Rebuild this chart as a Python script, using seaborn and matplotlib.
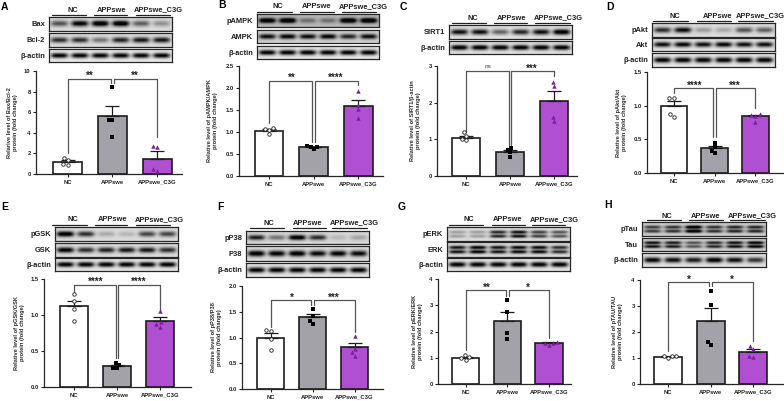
import matplotlib
matplotlib.use("Agg")
import matplotlib.pyplot as plt
import numpy as np
import pandas as pd
import seaborn as sns

FIG_W, FIG_H = 784, 401
groups = ["NC", "APPswe", "APPswe_C3G"]
palette = ["#ffffff", "#a2a2a8", "#b04fd2"]

a_nc, a_app, a_c3g = [0.9, 1.0, 1.4, 1.6], [3.6, 5.2, 5.2, 8.4], [0.3, 0.5, 2.6, 2.7]
a_mean, a_sem = [1.2, 5.6, 1.5], [0.2, 1.0, 0.7]
b_nc, b_app, b_c3g = [0.95, 1.05, 1.07, 1.08], [0.62, 0.66, 0.66, 0.69], [1.32, 1.52, 1.62, 1.93]
b_mean, b_sem = [1.03, 0.65, 1.6], [0.03, 0.01, 0.13]
c_nc, c_app, c_c3g = [0.98, 1.0, 1.1, 1.2], [0.53, 0.65, 0.72, 0.77], [1.5, 1.62, 2.45, 2.57]
c_mean, c_sem = [1.05, 0.66, 2.04], [0.05, 0.06, 0.29]
d_nc, d_app, d_c3g = [0.83, 0.87, 1.12, 1.12], [0.30, 0.33, 0.38, 0.45], [0.76, 0.85, 0.86, 0.88]
d_mean, d_sem = [1.0, 0.37, 0.84], [0.07, 0.03, 0.02]
e_nc, e_app, e_c3g = [0.92, 1.09, 1.2, 1.29], [0.26, 0.27, 0.30, 0.33], [0.84, 0.88, 0.90, 1.05]
e_mean, e_sem = [1.12, 0.29, 0.92], [0.08, 0.02, 0.05]
f_nc, f_app, f_c3g = [0.76, 0.98, 1.13, 1.14], [1.27, 1.32, 1.42, 1.55], [0.65, 0.72, 0.78, 1.03]
f_mean, f_sem = [1.0, 1.39, 0.81], [0.09, 0.06, 0.09]
g_nc, g_app, g_c3g = [0.93, 1.0, 1.03, 1.1], [1.73, 1.95, 2.73, 3.2], [1.48, 1.55, 1.58, 1.6]
g_mean, g_sem = [1.0, 2.4, 1.56], [0.04, 0.36, 0.03]
h_nc, h_app, h_c3g = [1.0, 1.07, 1.08, 1.09], [1.5, 1.6, 3.03, 3.57], [1.05, 1.08, 1.35, 1.47]
h_mean, h_sem = [1.05, 2.42, 1.25], [0.02, 0.52, 0.1]

# band strength per lane
bax = [.55, .9, 1, 1, .5, .3]
bcl2 = [.7, .7, .4, .75, .8, .8]
pampk = [.9, .95, .3, .3, .95, .95]
ampk = [.8, .85, .8, .85, .7, .8]
sirt1 = [.85, .85, .5, .75, .85, 1]
pakt = [.7, .85, .25, .2, .55, .5]
akt = [.85, .9, .85, .9, .85, .85]
pgsk = [1, .7, .2, .15, .6, .6]
gsk = [.9, .7, .75, .8, .8, .7]
pp38 = [.75, .4, .95, .7, .12, .2]
p38 = [.95, .9, .95, .85, .9, .85]
perk = [.25, .25, .75, .85, .65, .55]
erk = [.8, .9, .8, .85, .85, .7]
ptau = [.6, .65, 1, .65, .7, .7]
tau = [.8, .75, .5, .7, .8, .9]
actin = [.95, .95, .95, .95, .95, .95]
actin_h = [.9, .85, .8, .95, .85, .7]

# px layout: axis left/right/top/bottom, first bar centre, bar spacing, bar width
panels = [
    dict(letter="A", letter_xy=(1, 6), ax_px=(36, 182, 71, 174), bar0=67.5, step=44.9, bar_w=29.5,
         vals=(a_nc, a_app, a_c3g), mean=a_mean, sem=a_sem, ymax=10, ticks=[0, 2, 4, 6, 8, 10], fmt="{:.0f}",
         ylabel="Relarive level of Bax/Bcl-2\nprotein (fold change)", ylab_x=18,
         bracket=(9.25, 2.0, 8.8, 3.6), stars=("**", "**"),
         blot_x=(49, 172), rows=[("Bax", 17, 31, bax, 1, .86), ("Bcl-2", 33, 47, bcl2, 1, .86), ("β-actin", 49, 62, actin, 1, .92)],
         head_y=9, line_y=15, lines=[(52, 86), (94, 127), (136, 170)], head_x=(73, 112, 158)),
    dict(letter="B", letter_xy=(218, 5), ax_px=(239, 383, 66, 176), bar0=269, step=44.7, bar_w=28.5,
         vals=(b_nc, b_app, b_c3g), mean=b_mean, sem=b_sem, ymax=2.5, ticks=[0, .5, 1, 1.5, 2, 2.5], fmt="{:.1f}",
         ylabel="Relative level of pAMPK/AMPK\nprotein (fold change)", ylab_x=218,
         bracket=(2.17, 1.2, 0.78, 2.07), stars=("**", "****"),
         blot_x=(257, 379), rows=[("pAMPK", 14, 27, pampk, 1, .72), ("AMPK", 30, 43, ampk, 1, .82), ("β-actin", 46, 59, actin, 1, .9)],
         head_y=6, line_y=12, lines=[(257, 292), (300, 334), (342, 376)], head_x=(278, 317, 363)),
    dict(letter="C", letter_xy=(400, 6), ax_px=(437, 577, 66, 176), bar0=466, step=44, bar_w=28.5,
         vals=(c_nc, c_app, c_c3g), mean=c_mean, sem=c_sem, ymax=3, ticks=[0, 1, 2, 3], fmt="{:.0f}",
         ylabel="Relative level of SIRT1/β-actin\nprotein (fold change)", ylab_x=421,
         bracket=(2.86, 1.2, 0.85, 2.73), stars=("ns", "***"),
         blot_x=(449, 572), rows=[("SIRT1", 25, 39, sirt1, 1, .88), ("β-actin", 41, 54, actin, 1, .88)],
         head_y=17, line_y=23, lines=[(452, 486), (494, 527), (535, 570)], head_x=(473, 512, 558)),
    dict(letter="D", letter_xy=(606, 6), ax_px=(647, 783, 72, 173), bar0=674, step=40.7, bar_w=26.7,
         vals=(d_nc, d_app, d_c3g), mean=d_mean, sem=d_sem, ymax=1.5, ticks=[0, .5, 1, 1.5], fmt="{:.1f}",
         ylabel="Relative level of pAkt/Akt\nprotein (fold change)", ylab_x=627,
         bracket=(1.26, 1.19, 0.54, 0.96), stars=("****", "***"),
         blot_x=(652, 775), rows=[("pAkt", 23, 37, pakt, 1, .86), ("Akt", 38, 51, akt, 1, .88), ("β-actin", 53, 67, actin, 1, .9)],
         head_y=15, line_y=21, lines=[(653, 688), (697, 731), (738, 773)], head_x=(675, 718, 760)),
    dict(letter="E", letter_xy=(1, 207), ax_px=(44, 191, 279, 387), bar0=74, step=43, bar_w=27.8,
         vals=(e_nc, e_app, e_c3g), mean=e_mean, sem=e_sem, ymax=1.5, ticks=[0, .5, 1, 1.5], fmt="{:.1f}",
         ylabel="Relative level of pGSK/GSK\nprotein (fold change)", ylab_x=25,
         bracket=(1.42, 1.32, 0.4, 1.07), stars=("****", "****"),
         blot_x=(55, 178), rows=[("pGSK", 227, 241, pgsk, 1, .86), ("GSK", 243, 257, gsk, 1, .86), ("β-actin", 258, 271, actin, 1, .9)],
         head_y=219, line_y=225, lines=[(52, 87), (95, 127), (136, 170)], head_x=(73, 113, 159)),
    dict(letter="F", letter_xy=(217, 207), ax_px=(242, 383, 286, 389), bar0=270.5, step=42, bar_w=27.3,
         vals=(f_nc, f_app, f_c3g), mean=f_mean, sem=f_sem, ymax=2, ticks=[0, .5, 1, 1.5, 2], fmt="{:.1f}",
         ylabel="Relative level of pP38/P38\nprotein (fold change)", ylab_x=222,
         bracket=(1.73, 1.21, 1.63, 1.11), stars=("*", "***"),
         blot_x=(246, 369), rows=[("pP38", 231, 244, pp38, 1, .84), ("P38", 246, 261, p38, 1, .86), ("β-actin", 263, 277, actin, 1, .9)],
         head_y=222, line_y=228, lines=[(250, 284), (293, 326), (332, 367)], head_x=(269, 308, 354)),
    dict(letter="G", letter_xy=(398, 207), ax_px=(438, 571, 279, 384), bar0=465.5, step=41.8, bar_w=27.5,
         vals=(g_nc, g_app, g_c3g), mean=g_mean, sem=g_sem, ymax=4, ticks=[0, 1, 2, 3, 4], fmt="{:.0f}",
         ylabel="Relative level of pERK/ERK\nprotein (fold change)", ylab_x=423,
         bracket=(3.57, 1.3, 3.37, 1.75), stars=("**", "*"),
         blot_x=(447, 570), rows=[("pERK", 227, 241, perk, 2, .86), ("ERK", 242, 257, erk, 2, .84), ("β-actin", 258, 271, actin, 1, .9)],
         head_y=219, line_y=225, lines=[(449, 483), (492, 525), (532, 565)], head_x=(469, 508, 554)),
    dict(letter="H", letter_xy=(604, 205), ax_px=(640, 784, 280, 384), bar0=668, step=42.7, bar_w=28,
         vals=(h_nc, h_app, h_c3g), mean=h_mean, sem=h_sem, ymax=4, ticks=[0, 1, 2, 3, 4], fmt="{:.0f}",
         ylabel="Relative level of pTAU/TAU\nprotein (fold change)", ylab_x=623,
         bracket=(3.91, 1.26, 3.76, 1.64), stars=("*", "*"),
         blot_x=(642, 766), rows=[("pTau", 222, 236, ptau, 2, .8), ("Tau", 238, 251, tau, 2, .8), ("β-actin", 253, 267, actin_h, 1, .88)],
         head_y=215, line_y=220, lines=[(647, 681), (689, 723), (730, 765)], head_x=(667, 706, 752)),
]


def px_axes(fig, x0, x1, y0, y1):
    # pixel box (y from the top) to figure fractions
    return fig.add_axes([x0 / FIG_W, 1 - y1 / FIG_H, (x1 - x0) / FIG_W, (y1 - y0) / FIG_H])


def blot_image(levels, n_bands, background):
    # soft dark bands on a pale membrane, one column per lane
    h, w = 40, 240
    yy, xx = np.mgrid[0:1:h * 1j, 0:1:w * 1j]
    dark = np.zeros((h, w))
    centres = [0.5] if n_bands == 1 else [0.36, 0.66]
    for i, level in enumerate(levels):
        cx = (i + 0.5) / len(levels)
        across = np.exp(-((xx - cx) / 0.07) ** 4)
        for cy in centres:
            dark += level * across * np.exp(-((yy - cy) / (0.2 if n_bands == 1 else 0.12)) ** 2)
    return np.clip(background - dark, 0.02, 1)


def draw_bars(fig, p):
    left, right, top, bottom = p["ax_px"]
    ax = px_axes(fig, left, right, top, bottom)
    sns.barplot(x=groups, y=p["mean"], hue=groups, palette=palette, order=groups, legend=False, saturation=1,
                width=p["bar_w"] / p["step"], edgecolor="#1c1c1c", linewidth=1.2, ax=ax, zorder=2)
    ax.errorbar(range(3), p["mean"], yerr=[[0, 0, 0], p["sem"]], fmt="none", ecolor="#1c1c1c",
                elinewidth=0.9, capsize=5.2, capthick=0.9, zorder=3)

    # one swarm per group because the marker differs
    styles = [("o", "white", "#222222", 0.6, 2.5), ("s", "black", "black", 0, 2.5), ("^", "#7a1fa0", "#7a1fa0", 0, 3.2)]
    for name, values, (marker, face, edge, lw, size) in zip(groups, p["vals"], styles):
        points = pd.DataFrame({"group": name, "value": values})
        sns.swarmplot(data=points, x="group", y="value", order=groups, marker=marker, color=face,
                      edgecolor=edge, linewidth=lw, size=size, ax=ax, zorder=4, warn_thresh=1)

    ax.set_xlim((left - p["bar0"]) / p["step"], (right - p["bar0"]) / p["step"])
    ax.set_ylim(0, p["ymax"])
    ax.set_yticks(p["ticks"], [p["fmt"].format(t) for t in p["ticks"]])
    ax.set_xticks(range(3), groups)
    ax.set_xlabel("")
    ax.set_ylabel(p["ylabel"], fontsize=4.1, fontweight="bold", color="#2a2a2a", linespacing=1.25)
    ax.yaxis.set_label_coords((p["ylab_x"] - left) / (right - left), 0.5)
    ax.tick_params(axis="y", labelsize=4.2, length=2.2, width=0.8, pad=1.6, labelcolor="#222222")
    ax.tick_params(axis="x", labelsize=4.2, length=2.2, width=0.8, pad=4.8, labelcolor="#222222")
    for lab in ax.get_xticklabels():
        lab.set_fontweight("bold")
        lab.set_verticalalignment("baseline")
    for lab in ax.get_yticklabels():
        lab.set_fontweight("bold")
    sns.despine(ax=ax)
    for side in ("left", "bottom"):
        ax.spines[side].set_linewidth(0.9)
    ax.patch.set_alpha(0)

    # significance brackets
    y_top, drop_l, drop_m, drop_r = p["bracket"]
    gap = 1.3 / p["step"]
    col = "#555555"
    ax.plot([0, 0, 1 - gap, 1 - gap], [drop_l, y_top, y_top, drop_m], color=col, lw=0.9, zorder=1.5, clip_on=False)
    ax.plot([1 + gap, 1 + gap, 2, 2], [drop_m, y_top, y_top, drop_r], color=col, lw=0.9, zorder=1.5, clip_on=False)
    for x, label in zip((0.5, 1.5), p["stars"]):
        if label == "ns":
            ax.annotate(label, (x, y_top), xytext=(0, 1.5), textcoords="offset points", ha="center", va="bottom",
                        fontsize=4.6, color="#444444")
        else:
            ax.annotate(label, (x, y_top), xytext=(0, -1.8), textcoords="offset points", ha="center", va="bottom",
                        fontsize=7, fontweight="bold", color="#222222")


def draw_blot(fig, p):
    x0, x1 = p["blot_x"]
    for label, y0, y1, levels, n_bands, background in p["rows"]:
        ax = px_axes(fig, x0, x1, y0, y1)
        ax.imshow(blot_image(levels, n_bands, background), cmap="gray", vmin=0, vmax=1, aspect="auto",
                  interpolation="bilinear")
        ax.set_xticks([])
        ax.set_yticks([])
        for spine in ax.spines.values():
            spine.set_linewidth(0.9)
        fig.text((x0 - 4) / FIG_W, 1 - ((y0 + y1) / 2 + 2.5) / FIG_H, label, ha="right", va="baseline", fontsize=5.4,
                 fontweight="bold", color="#222222")
    for name, hx in zip(groups, p["head_x"]):
        fig.text(hx / FIG_W, 1 - (p["head_y"] + 2.5) / FIG_H, name, ha="center", va="baseline", fontsize=5.4,
                 fontweight="bold", color="#222222")
    for lx0, lx1 in p["lines"]:
        fig.add_artist(plt.Line2D([lx0 / FIG_W, lx1 / FIG_W], [1 - p["line_y"] / FIG_H] * 2, color="#222222", lw=0.9))
    fig.text(p["letter_xy"][0] / FIG_W, 1 - (p["letter_xy"][1] + 3.5) / FIG_H, p["letter"], ha="left", va="baseline",
             fontsize=7.5, fontweight="bold", color="black")


sns.set_style("ticks")
plt.rcParams["font.family"] = ["Liberation Sans", "DejaVu Sans"]

fig = plt.figure(figsize=(FIG_W / 100, FIG_H / 100), dpi=100)
for panel in panels:
    draw_bars(fig, panel)
    draw_blot(fig, panel)

fig.savefig("out.png", dpi=100)
